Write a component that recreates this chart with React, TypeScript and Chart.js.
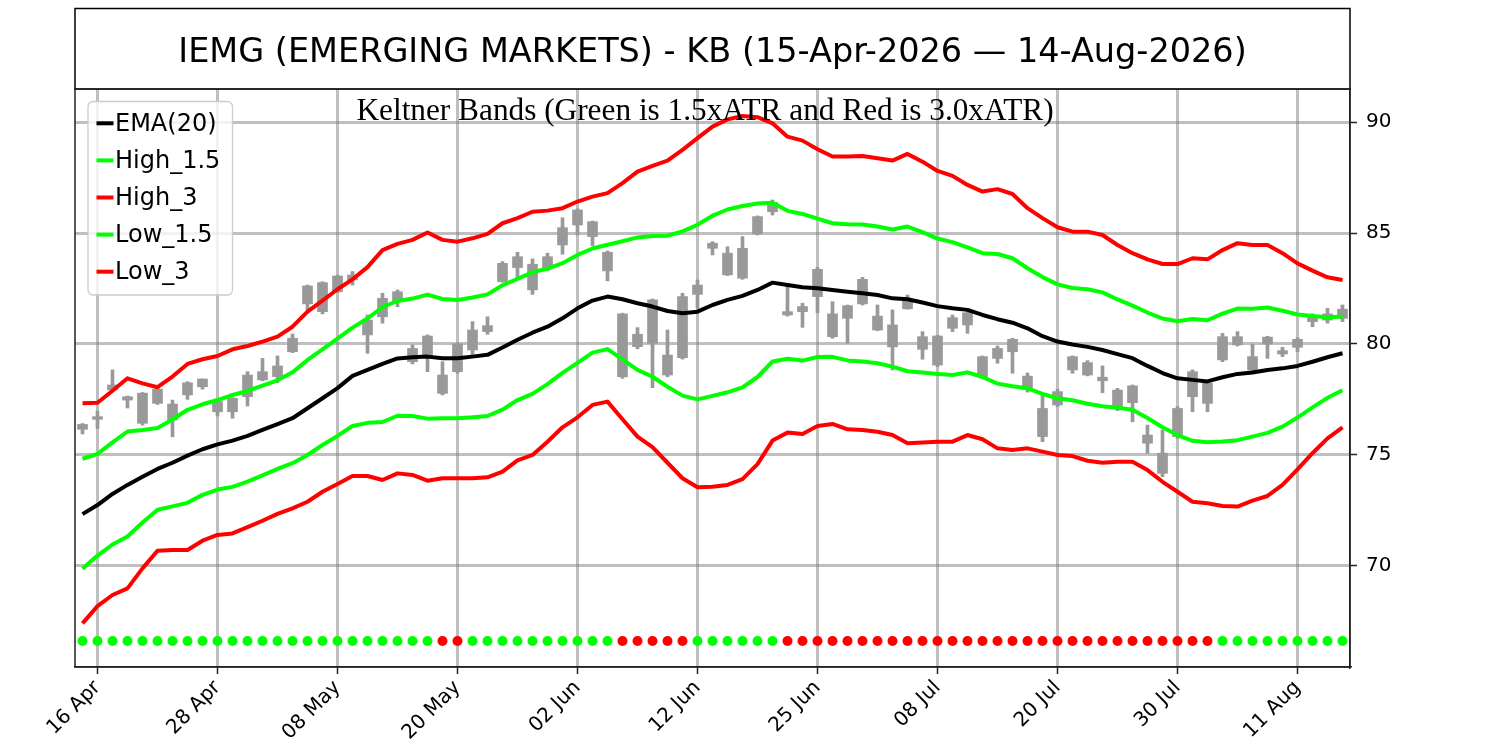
import React, { useEffect, useRef } from "react";
import { Chart, registerables } from "chart.js";

Chart.register(...registerables);

const titleText = "IEMG (EMERGING MARKETS) - KB (15-Apr-2026 — 14-Aug-2026)";
const subTitle = "Keltner Bands (Green is 1.5xATR and Red is 3.0xATR)";

// x axis = trading day index, 15-Apr-2026 is 0 and 14-Aug-2026 is 84
const tickDays = [1, 9, 17, 25, 33, 41, 49, 57, 65, 73, 81];
const tickLabels = ["16 Apr", "28 Apr", "08 May", "20 May", "02 Jun", "12 Jun", "25 Jun", "08 Jul", "20 Jul", "30 Jul", "11 Aug"];
const yTicks = [70, 75, 80, 85, 90];

const highs = [
  76.40, 76.96, 78.82, 77.64, 77.80, 77.98, 77.46, 78.29, 78.41, 77.46,
  77.57, 78.74, 79.34, 79.45, 80.44, 82.65, 82.80, 83.10, 83.26, 81.30,
  82.28, 82.43, 79.95, 80.40, 79.19, 80.02, 81.00, 81.22, 83.71, 84.13,
  83.83, 84.09, 85.69, 86.09, 85.54, 84.19, 81.38, 80.73, 82.02, 80.62,
  82.28, 82.88, 84.61, 84.38, 84.84, 85.77, 86.49, 82.58, 81.83, 83.45,
  81.90, 81.75, 83.00, 81.75, 81.53, 82.20, 80.55, 80.38, 81.30, 81.45,
  79.45, 79.90, 80.25, 78.68, 77.76, 77.95, 79.45, 79.24, 79.00, 77.99,
  78.14, 76.33, 76.11, 77.16, 78.82, 78.29, 80.47, 80.55, 79.99, 80.34,
  79.84, 80.27, 81.35, 81.60, 81.75,
];
const lows = [
  75.93, 76.18, 77.84, 77.10, 76.33, 77.26, 75.80, 77.49, 77.95, 76.74,
  76.64, 77.19, 78.33, 78.24, 79.60, 81.53, 81.35, 82.31, 82.65, 79.57,
  80.93, 81.67, 79.09, 78.74, 77.69, 78.67, 79.49, 80.43, 82.78, 82.96,
  82.23, 83.29, 84.04, 84.91, 84.43, 82.84, 78.44, 79.77, 78.02, 78.51,
  79.31, 81.60, 84.01, 83.08, 82.91, 84.91, 85.81, 81.25, 80.74, 81.40,
  80.25, 80.02, 81.75, 80.59, 78.82, 81.56, 79.30, 78.97, 80.55, 80.47,
  78.48, 79.12, 78.67, 77.82, 75.58, 77.16, 78.67, 78.55, 77.79, 76.98,
  76.48, 75.06, 74.00, 75.73, 76.93, 76.93, 79.19, 79.90, 78.70, 79.34,
  79.42, 79.64, 80.77, 80.93, 81.00,
];
const opens = [
  76.14, 76.59, 77.92, 77.46, 76.41, 77.31, 76.56, 77.69, 78.06, 76.93,
  76.93, 77.61, 78.37, 78.52, 79.64, 81.80, 81.45, 82.35, 82.88, 80.40,
  81.22, 81.90, 79.19, 79.42, 77.76, 78.74, 79.72, 80.55, 82.80, 83.44,
  82.43, 83.38, 84.46, 85.36, 84.84, 83.29, 78.51, 79.87, 80.02, 78.59,
  79.37, 82.23, 84.31, 83.11, 82.96, 84.96, 85.96, 81.30, 81.45, 82.13,
  80.32, 81.15, 81.80, 80.62, 79.86, 81.58, 79.75, 79.04, 80.70, 80.85,
  78.51, 79.34, 79.64, 77.95, 75.81, 77.24, 78.82, 78.59, 78.33, 77.08,
  77.34, 75.51, 74.15, 75.81, 77.61, 77.31, 79.27, 79.95, 78.82, 79.99,
  79.54, 79.84, 81.00, 81.07, 81.15,
];
const closes = [
  76.36, 76.71, 78.14, 77.61, 77.77, 77.95, 77.28, 78.24, 78.41, 77.39,
  77.54, 78.59, 78.74, 79.00, 80.25, 82.61, 82.76, 83.06, 83.10, 81.07,
  82.05, 82.35, 79.79, 80.35, 78.59, 80.00, 80.62, 80.82, 83.63, 83.93,
  83.59, 83.93, 85.24, 86.04, 85.51, 84.13, 81.35, 80.43, 81.98, 79.49,
  82.13, 82.65, 84.54, 84.09, 84.31, 85.74, 86.38, 81.45, 81.68, 83.36,
  81.35, 81.72, 82.91, 81.25, 80.85, 81.98, 80.32, 80.35, 81.18, 81.40,
  79.42, 79.79, 80.20, 78.54, 77.08, 77.84, 79.42, 79.15, 78.49, 77.91,
  78.10, 75.88, 75.06, 77.08, 78.74, 78.22, 80.32, 80.32, 79.42, 80.30,
  79.69, 80.20, 81.22, 81.35, 81.56,
];

const ema20 = [
  72.31, 72.72, 73.22, 73.63, 74.00, 74.35, 74.63, 74.95, 75.24, 75.46,
  75.63, 75.84, 76.11, 76.37, 76.64, 77.09, 77.54, 78.00, 78.55, 78.82,
  79.09, 79.34, 79.39, 79.42, 79.35, 79.35, 79.42, 79.50, 79.83, 80.18,
  80.50, 80.77, 81.15, 81.60, 81.95, 82.13, 82.01, 81.83, 81.68, 81.48,
  81.38, 81.45, 81.75, 81.98, 82.16, 82.43, 82.76, 82.65, 82.55, 82.51,
  82.43, 82.35, 82.28, 82.20, 82.05, 82.01, 81.86, 81.70, 81.60, 81.53,
  81.30, 81.11, 80.95, 80.70, 80.34, 80.10, 79.97, 79.86, 79.72, 79.53,
  79.35, 79.00, 78.68, 78.44, 78.37, 78.30, 78.49, 78.64, 78.70, 78.82,
  78.89, 79.00, 79.19, 79.39, 79.57,
];
const high15 = [
  74.81, 75.03, 75.55, 76.04, 76.11, 76.20, 76.58, 77.02, 77.27, 77.46,
  77.69, 77.87, 78.11, 78.35, 78.71, 79.27, 79.75, 80.23, 80.73, 81.14,
  81.66, 81.93, 82.04, 82.22, 82.02, 81.98, 82.09, 82.23, 82.64, 82.93,
  83.23, 83.39, 83.64, 84.01, 84.30, 84.47, 84.63, 84.80, 84.86, 84.88,
  85.07, 85.37, 85.78, 86.06, 86.22, 86.33, 86.36, 86.00, 85.86, 85.65,
  85.44, 85.40, 85.38, 85.29, 85.16, 85.29, 85.04, 84.75, 84.59, 84.35,
  84.09, 84.05, 83.86, 83.41, 83.01, 82.68, 82.52, 82.46, 82.32, 82.00,
  81.72, 81.41, 81.14, 81.02, 81.12, 81.06, 81.36, 81.59, 81.58, 81.64,
  81.49, 81.32, 81.25, 81.20, 81.23,
];
const high3 = [
  77.31, 77.34, 77.88, 78.44, 78.21, 78.04, 78.52, 79.09, 79.30, 79.45,
  79.75, 79.90, 80.10, 80.32, 80.77, 81.45, 81.95, 82.46, 82.91, 83.46,
  84.23, 84.51, 84.69, 85.02, 84.69, 84.61, 84.76, 84.96, 85.44, 85.67,
  85.96, 86.01, 86.12, 86.42, 86.64, 86.80, 87.25, 87.77, 88.03, 88.27,
  88.75, 89.28, 89.80, 90.13, 90.28, 90.23, 89.95, 89.35, 89.17, 88.78,
  88.45, 88.45, 88.48, 88.37, 88.27, 88.57, 88.22, 87.80, 87.58, 87.17,
  86.87, 86.98, 86.76, 86.12, 85.67, 85.26, 85.06, 85.06, 84.91, 84.46,
  84.09, 83.81, 83.60, 83.60, 83.86, 83.81, 84.23, 84.54, 84.46, 84.46,
  84.09, 83.63, 83.30, 83.00, 82.88,
];
const low15 = [
  69.85, 70.44, 70.94, 71.30, 71.93, 72.51, 72.66, 72.82, 73.18, 73.42,
  73.54, 73.78, 74.06, 74.35, 74.61, 74.98, 75.43, 75.84, 76.29, 76.43,
  76.47, 76.75, 76.74, 76.62, 76.64, 76.64, 76.68, 76.74, 77.03, 77.46,
  77.74, 78.18, 78.69, 79.14, 79.60, 79.76, 79.30, 78.82, 78.51, 78.06,
  77.66, 77.49, 77.65, 77.81, 78.03, 78.50, 79.20, 79.32, 79.24, 79.40,
  79.41, 79.25, 79.20, 79.12, 78.97, 78.76, 78.70, 78.64, 78.59, 78.71,
  78.50, 78.20, 78.08, 77.99, 77.74, 77.54, 77.45, 77.29, 77.18, 77.11,
  77.02, 76.65, 76.23, 75.88, 75.62, 75.55, 75.59, 75.65, 75.81, 75.98,
  76.26, 76.67, 77.13, 77.56, 77.90,
];
const low3 = [
  67.38, 68.16, 68.66, 68.96, 69.86, 70.66, 70.69, 70.69, 71.11, 71.37,
  71.44, 71.72, 72.01, 72.32, 72.57, 72.87, 73.32, 73.67, 74.03, 74.03,
  73.85, 74.15, 74.08, 73.82, 73.93, 73.93, 73.93, 73.97, 74.23, 74.74,
  74.98, 75.58, 76.23, 76.68, 77.24, 77.39, 76.59, 75.81, 75.33, 74.63,
  73.93, 73.52, 73.55, 73.63, 73.89, 74.57, 75.63, 75.99, 75.93, 76.29,
  76.38, 76.14, 76.11, 76.03, 75.88, 75.51, 75.54, 75.58, 75.58, 75.88,
  75.69, 75.28, 75.21, 75.28, 75.13, 74.98, 74.93, 74.72, 74.63, 74.68,
  74.68, 74.30, 73.77, 73.32, 72.87, 72.80, 72.68, 72.65, 72.92, 73.13,
  73.63, 74.33, 75.06, 75.73, 76.23,
];

// 1 = red dot, 0 = green dot
const signal = [
  0, 0, 0, 0, 0, 0, 0, 0, 0, 0, 0, 0, 0, 0, 0, 0, 0, 0, 0, 0,
  0, 0, 0, 0, 1, 1, 0, 0, 0, 0, 0, 0, 0, 0, 0, 0, 1, 1, 1, 1,
  1, 0, 0, 0, 0, 0, 0, 1, 1, 1, 1, 1, 1, 1, 1, 1, 1, 1, 1, 1,
  1, 1, 1, 1, 1, 1, 1, 1, 1, 1, 1, 1, 1, 1, 1, 1, 0, 0, 0, 0,
  0, 0, 0, 0, 0,
];
const signalLevel = 66.58;

const GREEN = "#00ff00";
const RED = "#ff0000";
const CANDLE = "#999999";

const xy = (arr: number[]) => arr.map((y, x) => ({ x, y }));

const decorations = {
  id: "decorations",
  afterDraw(chart: any) {
    const { ctx, chartArea: a } = chart;
    const xs = chart.scales.x;
    ctx.save();

    // title box
    ctx.strokeStyle = "#000";
    ctx.lineWidth = 1.5;
    ctx.strokeRect(a.left, 8.5, a.right - a.left, a.top - 8.5);
    ctx.fillStyle = "#000";
    ctx.textAlign = "center";
    ctx.textBaseline = "alphabetic";
    ctx.font = "33.5px 'DejaVu Sans'";
    ctx.fillText(titleText, (a.left + a.right) / 2, 61.5);

    // sub title inside the plot
    ctx.font = "31.3px 'Liberation Serif'";
    ctx.fillText(subTitle, xs.getPixelForValue(41.5), 120);

    // legend
    const lines = chart.data.datasets.filter((d: any) => d.type === "line");
    const bx = 88, by = 101.5, bw = 144.5, bh = 193.5;
    ctx.beginPath();
    ctx.roundRect(bx, by, bw, bh, 5);
    ctx.fillStyle = "rgba(255,255,255,0.8)";
    ctx.fill();
    ctx.strokeStyle = "#cccccc";
    ctx.lineWidth = 1.3;
    ctx.stroke();
    ctx.font = "24px 'DejaVu Sans'";
    ctx.textAlign = "left";
    ctx.textBaseline = "middle";
    lines.forEach((d: any, k: number) => {
      const cy = 123.3 + k * 37.1;
      ctx.strokeStyle = d.borderColor;
      ctx.lineWidth = 4;
      ctx.beginPath();
      ctx.moveTo(96.5, cy);
      ctx.lineTo(113.5, cy);
      ctx.stroke();
      ctx.fillStyle = "#000";
      ctx.fillText(d.label, 115, cy + 1);
    });

    // axes frame
    ctx.strokeStyle = "#222";
    ctx.lineWidth = 1.5;
    ctx.strokeRect(a.left, a.top, a.right - a.left, a.bottom - a.top);
    ctx.restore();
  },
};

const lineSet = (label: string, data: number[], color: string) => ({
  type: "line" as const,
  label,
  data: xy(data),
  borderColor: color,
  borderWidth: 4,
  pointRadius: 0,
  tension: 0,
  fill: false,
  borderJoinStyle: "round" as const,
  order: 0,
});

const App: React.FC = () => {
  const chartRef = useRef<HTMLCanvasElement | null>(null);
  const chartInstance = useRef<Chart | null>(null);

  useEffect(() => {
    if (!chartRef.current) return;
    const ctx = chartRef.current.getContext("2d");
    if (!ctx) return;

    const data: any = {
      datasets: [
        lineSet("EMA(20)", ema20, "#000000"),
        lineSet("High_1.5", high15, GREEN),
        lineSet("High_3", high3, RED),
        lineSet("Low_1.5", low15, GREEN),
        lineSet("Low_3", low3, RED),
        {
          type: "scatter",
          label: "signal",
          data: signal.map((_, x) => ({ x, y: signalLevel })),
          pointRadius: 5,
          pointBorderWidth: 0,
          pointBackgroundColor: signal.map((s) => (s ? RED : GREEN)),
          showLine: false,
          order: 1,
        },
        {
          type: "bar",
          label: "body",
          data: opens.map((o, x) => ({ x, y: [o, closes[x]] })),
          backgroundColor: CANDLE,
          borderWidth: 0,
          barThickness: 10,
          grouped: false,
          order: 2,
        },
        {
          type: "bar",
          label: "wick",
          data: lows.map((l, x) => ({ x, y: [l, highs[x]] })),
          backgroundColor: CANDLE,
          borderWidth: 0,
          barThickness: 3,
          grouped: false,
          order: 3,
        },
      ],
    };

    chartInstance.current = new Chart(ctx, {
      type: "bar",
      data,
      options: {
        responsive: false,
        animation: false,
        events: [],
        layout: { padding: { top: 89, left: 75, right: 0, bottom: 0 } },
        plugins: {
          legend: { display: false },
          tooltip: { enabled: false },
        },
        scales: {
          x: {
            type: "linear",
            min: -0.5,
            max: 84.5,
            offset: false,
            afterBuildTicks: (scale: any) => {
              scale.ticks = tickDays.map((v) => ({ value: v }));
            },
            afterFit: (scale: any) => {
              scale.height = 83;
            },
            grid: {
              offset: false,
              color: "rgba(128,128,128,0.5)",
              lineWidth: 3,
              tickColor: "#222",
              tickWidth: 1.5,
              tickLength: 7,
            },
            border: { color: "#222", width: 1.5 },
            ticks: {
              autoSkip: false,
              minRotation: 45,
              maxRotation: 45,
              padding: 2,
              color: "#000",
              font: { family: "'DejaVu Sans'", size: 20 },
              callback: (_v: any, i: number) => tickLabels[i],
            },
          },
          y: {
            type: "linear",
            position: "right",
            min: 65.41,
            max: 91.5,
            afterBuildTicks: (scale: any) => {
              scale.ticks = yTicks.map((v) => ({ value: v }));
            },
            afterFit: (scale: any) => {
              scale.width = 150;
            },
            grid: {
              color: "rgba(128,128,128,0.5)",
              lineWidth: 3,
              tickColor: "#222",
              tickWidth: 1.5,
              tickLength: 7,
            },
            border: { color: "#222", width: 1.5 },
            ticks: {
              padding: 9,
              color: "#000",
              font: { family: "'DejaVu Sans'", size: 20 },
              callback: (v: any) => String(v),
            },
          },
        },
      } as any,
      plugins: [decorations],
    });

    return () => {
      if (chartInstance.current) {
        chartInstance.current.destroy();
        chartInstance.current = null;
      }
    };
  }, []);

  return (
    <div style={{ position: "absolute", left: 0, top: 0, width: 1500, height: 750, background: "#fff" }}>
      <canvas ref={chartRef} width={1500} height={750}></canvas>
    </div>
  );
};

export default App;
